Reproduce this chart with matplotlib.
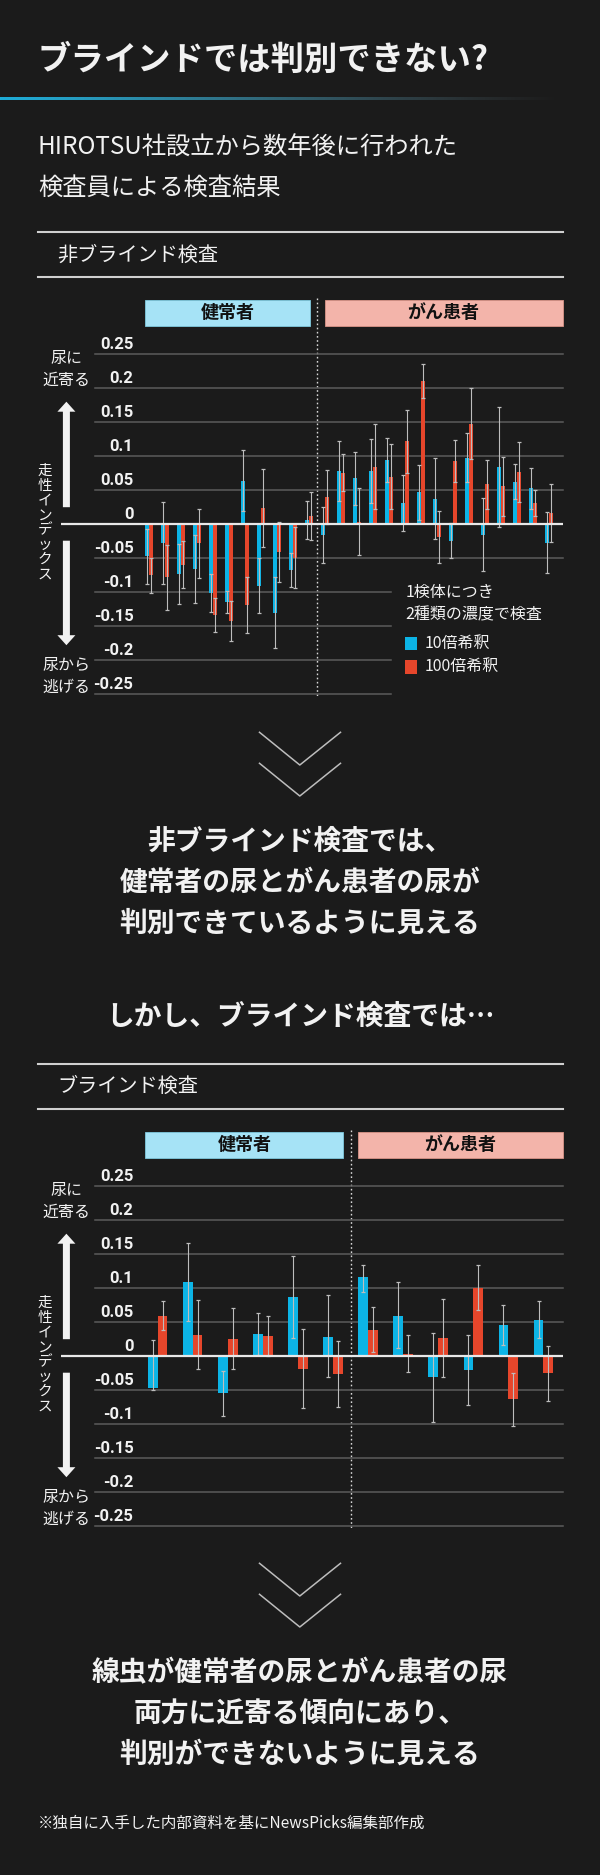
import matplotlib
matplotlib.use('Agg')
import matplotlib.pyplot as plt
import numpy as np
from matplotlib.patches import Rectangle, Polygon

CJK = ['Noto Sans CJK JP', 'DejaVu Sans']
NUM = ['Roboto', 'DejaVu Sans']
BG = '#1b1b1b'
BLUE = '#0cb4e6'
RED = '#e6462b'
GRID = '#5c5c5c'
ERR = '#bdbdbd'
WHITE = '#f2f2f2'

# ---------------- data ----------------
groups = ['健常者', 'がん患者']
legend_title = ['1検体につき', '2種類の濃度で検査']
series_names = ['10倍希釈', '100倍希釈']
yticks = [0.25, 0.2, 0.15, 0.1, 0.05, 0, -0.05, -0.1, -0.15, -0.2, -0.25]
ytick_labels = ['0.25', '0.2', '0.15', '0.1', '0.05', '0', '-0.05', '-0.1', '-0.15', '-0.2', '-0.25']

# non-blind test: 11 healthy + 15 cancer samples
nb_n_healthy = 11
nb_blue = [-0.048, -0.028, -0.074, -0.067, -0.102, -0.115, 0.063, -0.091, -0.131, -0.068, 0.005,
           -0.017, 0.077, 0.067, 0.078, 0.094, 0.031, 0.046, 0.037, -0.025, 0.097, -0.016, 0.083, 0.062, 0.052, -0.028]
nb_blue_err = [0.040, 0.060, 0.044, 0.050, 0.028, 0.016, 0.045, 0.041, 0.052, 0.025, 0.028,
               0.041, 0.044, 0.039, 0.047, 0.032, 0.041, 0.040, 0.059, 0.026, 0.036, 0.054, 0.088, 0.026, 0.030, 0.045]
nb_red = [-0.076, -0.079, -0.060, -0.029, -0.134, -0.143, -0.119, 0.023, -0.041, -0.050, 0.011,
          0.039, 0.075, 0.003, 0.084, 0.069, 0.121, 0.210, -0.020, 0.092, 0.147, 0.058, 0.055, 0.076, 0.030, 0.016]
nb_red_err = [0.026, 0.048, 0.035, 0.051, 0.025, 0.030, 0.041, 0.057, 0.044, 0.045, 0.035,
              0.040, 0.027, 0.049, 0.063, 0.048, 0.046, 0.025, 0.038, 0.031, 0.052, 0.036, 0.043, 0.044, 0.019, 0.043]

# blind test: 6 healthy + 6 cancer samples
b_n_healthy = 6
b_blue = [-0.047, 0.108, -0.055, 0.032, 0.086, 0.027, 0.116, 0.059, -0.032, -0.021, 0.045, 0.053]
b_blue_err_lo = [0.003, 0.057, 0.033, 0.031, 0.060, 0.059, 0.022, 0.047, 0.065, 0.051, 0.029, 0.027]
b_blue_err_hi = [0.070, 0.058, 0.033, 0.031, 0.060, 0.062, 0.018, 0.050, 0.066, 0.051, 0.029, 0.028]
b_red = [0.059, 0.031, 0.025, 0.029, -0.019, -0.027, 0.038, 0.003, 0.026, 0.100, -0.064, -0.026]
b_red_err = [0.021, 0.051, 0.045, 0.029, 0.058, 0.048, 0.033, 0.027, 0.057, 0.033, 0.039, 0.040]

# ---------------- figure ----------------
W, H = 600, 1875
fig = plt.figure(figsize=(W / 100, H / 100), dpi=100, facecolor=BG)
bg = fig.add_axes([0, 0, 1, 1])
bg.set_xlim(0, W)
bg.set_ylim(H, 0)
bg.axis('off')


def txt(x, y, s, size, weight='normal', ha='left', va='center', color=WHITE, family=CJK, ax=None):
    (ax or bg).text(x, y, s, fontsize=size, fontweight=weight, ha=ha, va=va, color=color, family=family)


# title
txt(38, 60, 'ブラインドでは判別できない?', 24, 'bold')
# gradient rule under title
grad = np.zeros((1, 300, 4))
t = np.linspace(0, 1, 300)
c0 = np.array([0.12, 0.68, 0.85])
c1 = np.array([0.35, 0.38, 0.40])
for i, tt in enumerate(t):
    grad[0, i, :3] = c0 * (1 - tt) + c1 * tt
    grad[0, i, 3] = 1 - tt ** 1.6
bg.imshow(grad, extent=[0, 560, 100.2, 97.8], aspect='auto', zorder=2)

txt(38, 148, 'HIROTSU社設立から数年後に行われた', 17.5)
txt(38, 188, '検査員による検査結果', 17.5)


def up_arrow(xc, y_tip, y_tail):
    hw, sw, hl = 9, 3.5, 10
    pts = [(xc, y_tip), (xc + hw, y_tip + hl), (xc + sw, y_tip + hl), (xc + sw, y_tail),
           (xc - sw, y_tail), (xc - sw, y_tip + hl), (xc - hw, y_tip + hl)]
    bg.add_patch(Polygon(pts, closed=True, color=WHITE, lw=0))


def down_arrow(xc, y_tail, y_tip):
    hw, sw, hl = 9, 3.5, 10
    pts = [(xc, y_tip), (xc + hw, y_tip - hl), (xc + sw, y_tip - hl), (xc + sw, y_tail),
           (xc - sw, y_tail), (xc - sw, y_tip - hl), (xc - hw, y_tip - hl)]
    bg.add_patch(Polygon(pts, closed=True, color=WHITE, lw=0))


def chevrons(y0):
    for dy in (0, 31):
        bg.plot([259.5, 299.8, 340.5], [y0 + dy, y0 + dy + 32.7, y0 + dy], color='#bdbdbd', lw=1.1)


def draw_chart(zero, title, n_healthy, first_c, spacing, bw, blue, blue_err, red, red_err,
               capsize, legend):
    px_l, px_r = 94.5, 562.5
    # section header
    bg.plot([37.5, 562.5], [zero - 291.4] * 2, color='#d0d0d0', lw=1.5)
    bg.plot([37.5, 562.5], [zero - 246.4] * 2, color='#d0d0d0', lw=1.5)
    txt(57.5, zero - 268.9, title, 14.5)
    # group boxes
    div_x = first_c + (n_healthy - 0.5) * spacing
    by0, by1 = zero - 223.8, zero - 198.2
    bg.add_patch(Rectangle((145.4, by0), div_x - 7.3 - 145.4, by1 - by0, facecolor='#a6e3f6',
                           edgecolor='#7fc8de', lw=0.6))
    bg.add_patch(Rectangle((div_x + 7.2, by0), 562.5 - div_x - 7.2, by1 - by0, facecolor='#f3b4aa',
                           edgecolor='#d99488', lw=0.6))
    txt((145.4 + div_x - 7.3) / 2, (by0 + by1) / 2, groups[0], 13, 'bold', ha='center', color='#111111')
    txt((div_x + 7.2 + 562.5) / 2, (by0 + by1) / 2, groups[1], 13, 'bold', ha='center', color='#111111')
    bg.plot([div_x, div_x], [zero - 225.7, zero + 172], color='#d8d8d8', lw=1.0, ls=(0, (1.2, 1.8)))
    # side annotations
    txt(66, zero - 165.7, '尿に', 11.5, ha='center')
    txt(66, zero - 143.6, '近寄る', 11.5, ha='center')
    txt(66, zero + 142, '尿から', 11.5, ha='center')
    txt(66, zero + 163.5, '逃げる', 11.5, ha='center')
    up_arrow(66.4, zero - 122, zero - 16.5)
    down_arrow(66.4, zero + 17, zero + 121.5)
    for i, ch in enumerate('走性インデックス'):
        txt(45, zero - 52.7 + i * 14.85, ch, 10.5, ha='center')
    # chart axes
    ax = fig.add_axes([px_l / W, 1 - (zero + 170) / H, (px_r - px_l) / W, 340 / H])
    ax.set_xlim((px_l - first_c) / spacing, (px_r - first_c) / spacing)
    ax.set_ylim(-0.25, 0.25)
    ax.axis('off')
    xmax_neg = (391 - px_l) / (px_r - px_l) if legend else 1.0
    for v, lab in zip(yticks, ytick_labels):
        if v != 0:
            ax.axhline(v, xmin=0, xmax=(xmax_neg if v <= -0.1 else 1.0), color=GRID, lw=1.1,
                       zorder=1, clip_on=False)
        bg.text(133.5, zero - v * 680 - 5, lab, fontsize=12, fontweight='bold', ha='right',
                va='baseline', color=WHITE, family=NUM)
    x = np.arange(len(blue))
    ax.bar(x - bw / 2, blue, width=bw, color=BLUE, zorder=3, lw=0)
    ax.bar(x + bw / 2, red, width=bw, color=RED, zorder=3, lw=0)
    ax.errorbar(x - bw / 2, blue, yerr=blue_err, fmt='none', ecolor=ERR, elinewidth=0.8,
                capsize=capsize, capthick=0.9, zorder=4)
    ax.errorbar(x + bw / 2, red, yerr=red_err, fmt='none', ecolor=ERR, elinewidth=0.8,
                capsize=capsize, capthick=0.9, zorder=4)
    x0 = (60.5 - first_c) / spacing
    x1 = (px_r - first_c) / spacing
    ax.hlines(0, x0, x1, color='#e8e8e8', lw=1.6, zorder=5, clip_on=False)
    if legend:
        txt(405.5, zero + 69, legend_title[0], 11.5)
        txt(405.5, zero + 91.5, legend_title[1], 11.5)
        bg.add_patch(Rectangle((404.5, zero + 113), 12.5, 13.3, color=BLUE, lw=0))
        bg.add_patch(Rectangle((404.5, zero + 136.5), 12.5, 13.3, color=RED, lw=0))
        txt(424.5, zero + 119.6, series_names[0], 11.5)
        txt(424.5, zero + 143, series_names[1], 11.5)
    return ax


# chart 1: non-blind
draw_chart(523.7, '非ブラインド検査', nb_n_healthy, 149.3, 16.0, 0.25,
           nb_blue, nb_blue_err, nb_red, nb_red_err, 1.2, True)

chevrons(732.3)
txt(300, 841.7, '非ブラインド検査では、', 20, 'bold', ha='center')
txt(300, 883.3, '健常者の尿とがん患者の尿が', 20, 'bold', ha='center')
txt(300, 924.0, '判別できているように見える', 20, 'bold', ha='center')
txt(300, 1016.7, 'しかし、ブラインド検査では…', 20, 'bold', ha='center')

# chart 2: blind
draw_chart(1355.7, 'ブラインド検査', b_n_healthy, 157.7, 35.06, 0.277,
           b_blue, [b_blue_err_lo, b_blue_err_hi], b_red, b_red_err, 1.6, False)

chevrons(1563.3)
txt(300, 1673.3, '線虫が健常者の尿とがん患者の尿', 20, 'bold', ha='center')
txt(300, 1714.3, '両方に近寄る傾向にあり、', 20, 'bold', ha='center')
txt(300, 1755.0, '判別ができないように見える', 20, 'bold', ha='center')

txt(38, 1822.7, '※独自に入手した内部資料を基にNewsPicks編集部作成', 11.2)

fig.savefig('out.png', dpi=100, facecolor=BG)
